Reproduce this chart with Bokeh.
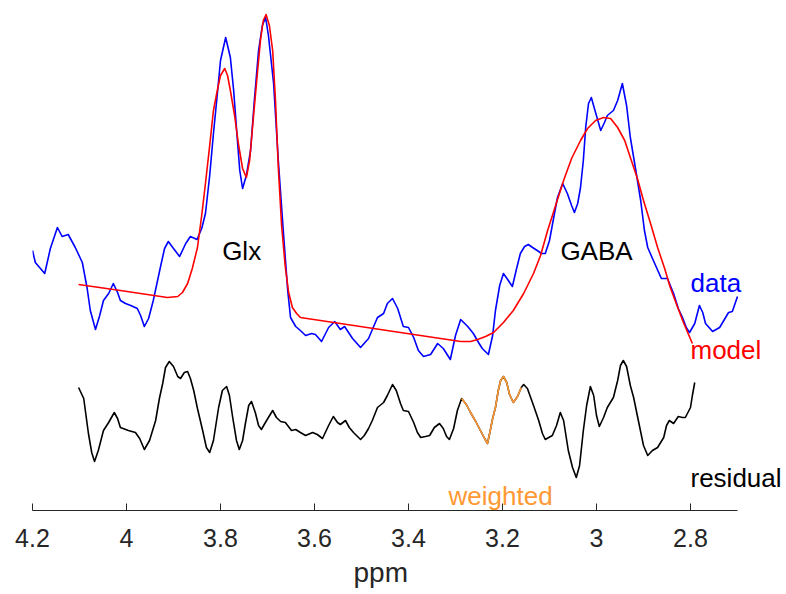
from bokeh.plotting import figure
from bokeh.models import Range1d, FixedTicker, Label, Title
from bokeh.embed import file_html
from bokeh.resources import INLINE

# ---- data (ppm, amplitude in arbitrary units) ----
data_ppm = [4.200, 4.194, 4.174, 4.162, 4.147, 4.137, 4.124, 4.109, 4.094, 4.084, 4.077, 4.066, 4.057, 4.049,
            4.038, 4.028, 4.019, 4.013, 4.002, 3.991, 3.977, 3.970, 3.962, 3.953, 3.943, 3.928, 3.919, 3.911,
            3.900, 3.887, 3.874, 3.864, 3.850, 3.840, 3.832, 3.823, 3.815, 3.806, 3.800, 3.789, 3.779, 3.772,
            3.764, 3.759, 3.753, 3.745, 3.736, 3.728, 3.719, 3.711, 3.704, 3.698, 3.687, 3.677, 3.666, 3.657,
            3.651, 3.640, 3.630, 3.619, 3.606, 3.598, 3.585, 3.570, 3.557, 3.545, 3.536, 3.519, 3.502, 3.485,
            3.466, 3.453, 3.445, 3.434, 3.423, 3.411, 3.400, 3.389, 3.379, 3.368, 3.353, 3.338, 3.326, 3.311,
            3.300, 3.289, 3.274, 3.262, 3.251, 3.243, 3.230, 3.221, 3.215, 3.206, 3.198, 3.189, 3.179, 3.170,
            3.162, 3.153, 3.145, 3.136, 3.126, 3.117, 3.109, 3.100, 3.091, 3.083, 3.072, 3.062, 3.053, 3.047,
            3.040, 3.034, 3.028, 3.023, 3.017, 3.011, 3.002, 2.991, 2.983, 2.977, 2.964, 2.955, 2.945, 2.936,
            2.928, 2.917, 2.906, 2.898, 2.891, 2.879, 2.862, 2.849, 2.836, 2.826, 2.817, 2.809, 2.802, 2.791,
            2.781, 2.774, 2.768, 2.753, 2.738, 2.719, 2.711, 2.700]
data_val = [260, 248, 237, 262, 283, 274, 276, 263, 248, 223, 200, 181, 195, 210,
            217, 227, 218, 210, 207, 205, 202, 195, 184, 192, 210, 243, 262, 269,
            262, 254, 267, 274, 271, 282, 297, 335, 377, 420, 450, 473, 453, 420,
            370, 340, 322, 335, 360, 410, 460, 485, 493, 475, 427, 350, 277, 220,
            193, 184, 180, 175, 177, 176, 169, 183, 189, 181, 184, 172, 163, 172,
            193, 197, 207, 212, 202, 184, 183, 173, 160, 154, 156, 167, 162, 151,
            175, 191, 184, 177, 168, 162, 156, 175, 200, 225, 237, 231, 224, 242,
            257, 264, 266, 263, 260, 257, 257, 270, 293, 313, 327, 317, 305, 298,
            307, 323, 350, 383, 407, 413, 398, 380, 388, 395, 400, 410, 427, 405,
            373, 342, 310, 280, 263, 250, 232, 232, 217, 202, 193, 183, 178, 187,
            205, 198, 187, 179, 183, 198, 199, 214]

model_ppm = [4.102, 4.013, 3.913, 3.891, 3.881, 3.870, 3.860, 3.849, 3.840, 3.832, 3.823, 3.815, 3.806,
             3.800, 3.791, 3.785, 3.779, 3.770, 3.762, 3.753, 3.745, 3.738, 3.730, 3.721, 3.715, 3.709,
             3.703, 3.696, 3.689, 3.683, 3.677, 3.670, 3.662, 3.655, 3.647, 3.638, 3.630, 3.460, 3.289,
             3.268, 3.253, 3.236, 3.219, 3.198, 3.177, 3.155, 3.134, 3.119, 3.104, 3.087, 3.070, 3.053,
             3.034, 3.019, 3.002, 2.985, 2.970, 2.955, 2.940, 2.928, 2.913, 2.900, 2.885, 2.870, 2.855,
             2.843, 2.828, 2.815, 2.796]
model_val = [226, 220, 213, 214, 218, 227, 242, 263, 295, 327, 365, 400, 422,
             435, 442, 435, 420, 395, 367, 342, 333, 350, 393, 440, 470, 490,
             496, 485, 460, 410, 343, 285, 243, 218, 203, 197, 193, 181, 169,
             169, 171, 174, 178, 188, 200, 217, 237, 255, 280, 305, 330, 352,
             370, 382, 390, 393, 392, 383, 370, 353, 332, 310, 287, 263, 242,
             223, 204, 188, 167]

resid_ppm = [4.102, 4.091, 4.081, 4.074, 4.068, 4.060, 4.049, 4.038, 4.026, 4.019, 4.013, 3.996, 3.981,
             3.972, 3.962, 3.951, 3.938, 3.930, 3.923, 3.917, 3.909, 3.900, 3.891, 3.885, 3.877, 3.870,
             3.864, 3.857, 3.849, 3.838, 3.830, 3.823, 3.815, 3.804, 3.796, 3.787, 3.781, 3.774, 3.766,
             3.760, 3.753, 3.747, 3.740, 3.734, 3.726, 3.719, 3.713, 3.702, 3.689, 3.681, 3.672, 3.662,
             3.649, 3.640, 3.630, 3.619, 3.604, 3.594, 3.583, 3.570, 3.560, 3.551, 3.545, 3.534, 3.526,
             3.517, 3.502, 3.494, 3.485, 3.477, 3.466, 3.453, 3.445, 3.434, 3.426, 3.417, 3.411, 3.400,
             3.389, 3.381, 3.374, 3.364, 3.355, 3.345, 3.334, 3.326, 3.319, 3.313, 3.304, 3.296, 3.287,
             3.277, 3.268, 3.257, 3.247, 3.238, 3.232, 3.226, 3.221, 3.215, 3.209, 3.204, 3.198, 3.191,
             3.185, 3.177, 3.168, 3.160, 3.155, 3.147, 3.134, 3.123, 3.115, 3.109, 3.094, 3.085, 3.077,
             3.070, 3.060, 3.051, 3.043, 3.036, 3.028, 3.021, 3.013, 3.006, 3.000, 2.994, 2.985, 2.977,
             2.964, 2.955, 2.949, 2.943, 2.936, 2.928, 2.921, 2.911, 2.900, 2.891, 2.881, 2.870, 2.857,
             2.851, 2.845, 2.836, 2.826, 2.817, 2.811, 2.800, 2.796, 2.791]
resid_val = [123, 112, 77, 58, 49, 60, 80, 88, 98, 92, 83, 80, 78,
             72, 61, 70, 90, 112, 127, 143, 149, 144, 134, 132, 138, 139,
             132, 120, 102, 80, 63, 58, 70, 103, 120, 124, 115, 93, 70,
             61, 70, 87, 105, 109, 98, 85, 81, 90, 100, 93, 89, 88,
             80, 81, 78, 75, 78, 76, 72, 85, 94, 88, 86, 90, 83,
             78, 71, 75, 82, 90, 103, 108, 115, 126, 120, 107, 100, 99,
             88, 78, 73, 74, 75, 83, 87, 82, 74, 71, 82, 100, 112,
             106, 98, 89, 80, 72, 67, 80, 92, 103, 120, 130, 134, 128,
             116, 108, 114, 123, 126, 122, 105, 90, 77, 71, 75, 85, 98,
             90, 60, 43, 33, 45, 80, 105, 124, 115, 95, 84, 93, 103,
             113, 130, 145, 150, 144, 125, 113, 90, 65, 55, 60, 63, 73,
             85, 90, 87, 94, 93, 93, 103, 115, 128]

weighted_range = (3.160, 3.287)   # ppm span of weighted part of residual

tick_values = [4.2, 4.0, 3.8, 3.6, 3.4, 3.2, 3.0, 2.8]
tick_labels = ["4.2", "4", "3.8", "3.6", "3.4", "3.2", "3", "2.8"]
axis_bounds = (2.7, 4.2)
x_title = "ppm"

FONT = "Liberation Sans"
ORANGE = "#FF9933"
AXC = "#262626"
LW = 1.6

# frame spans page x 32..786 at 470 px/ppm -> right end of x range
x_end = 4.2 - (786 - 32) / 470.0

p = figure(width=786, height=594, output_backend="svg", toolbar_location=None,
           x_range=Range1d(4.2, x_end), y_range=Range1d(0, 502),
           y_axis_location=None, min_border_left=32, min_border_right=0,
           min_border_top=8, min_border_bottom=84)
p.outline_line_color = None
p.grid.visible = False
p.background_fill_color = "white"
p.border_fill_color = "white"

p.line(data_ppm, data_val, line_color="#0000FF", line_width=LW, line_join="round")
p.line(model_ppm, model_val, line_color="#FF0000", line_width=LW, line_join="round")
p.line(resid_ppm, resid_val, line_color="black", line_width=LW, line_join="round")
w_x = [x for x in resid_ppm if weighted_range[0] <= x <= weighted_range[1]]
w_y = [y for x, y in zip(resid_ppm, resid_val) if weighted_range[0] <= x <= weighted_range[1]]
p.line(w_x, w_y, line_color=ORANGE, line_width=LW, line_join="round")

ax = p.xaxis[0]
ax.bounds = axis_bounds
ax.ticker = FixedTicker(ticks=tick_values)
ax.major_label_overrides = {v: s for v, s in zip(tick_values, tick_labels)}
ax.minor_tick_line_color = None
ax.major_tick_in = 7
ax.major_tick_out = 0
ax.axis_line_color = AXC
ax.major_tick_line_color = AXC
ax.major_label_text_font = FONT
ax.major_label_text_font_size = "25px"
ax.major_label_text_color = AXC
ax.major_label_standoff = 18

# axis title centred under the axis line (not the whole frame)
p.add_layout(Title(text=x_title, align="left", offset=321, standoff=10,
                   text_font=FONT, text_font_size="28px", text_font_style="normal",
                   text_color=AXC), "below")

def lab(x, y, text, color, align):
    p.add_layout(Label(x=x, y=y, text=text, text_color=color, text_font=FONT,
                       text_font_size="26px", text_align=align, text_baseline="middle"))

lab(3.755, 260, "Glx", "black", "center")
lab(3.000, 260, "GABA", "black", "center")
lab(2.800, 228, "data", "#0000FF", "left")
lab(2.800, 161, "model", "#FF0000", "left")
lab(2.800, 33, "residual", "black", "left")
lab(3.204, 15, "weighted", ORANGE, "center")

open("out.html", "w").write(file_html(p, INLINE))
